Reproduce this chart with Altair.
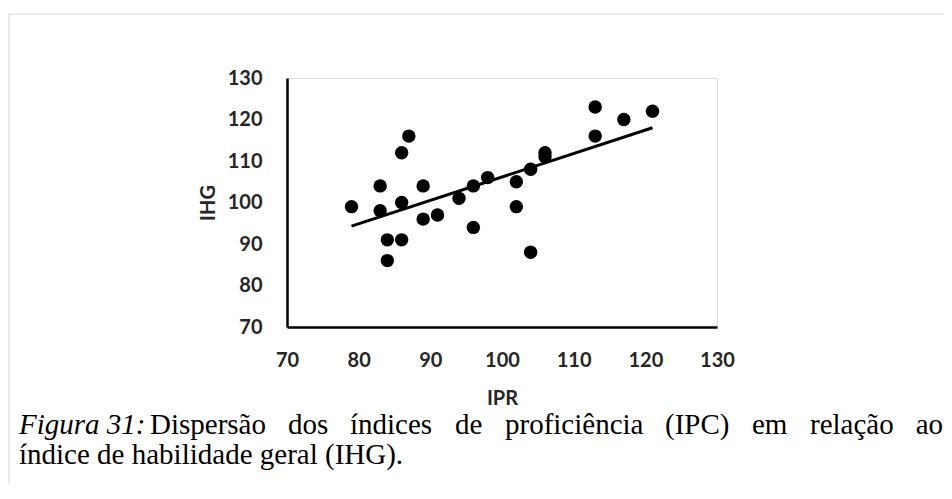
import altair as alt
import pandas as pd

ipr = [79, 83, 83, 84, 84, 86, 86, 86, 87, 89, 89, 91, 94, 96, 96, 98,
       102, 102, 104, 104, 106, 106, 113, 113, 117, 121]
ihg = [99, 104, 98, 91, 86, 91, 100, 112, 116, 104, 96, 97, 101, 104, 94, 106,
       105, 99, 88, 108, 112, 111, 123, 116, 120, 122]
x_ticks = [70, 80, 90, 100, 110, 120, 130]
y_ticks = [70, 80, 90, 100, 110, 120, 130]
caption_italic = "Figura 31:"
caption_words_1 = ["Dispersão", "dos", "índices", "de", "proficiência", "(IPC)",
                   "em", "relação", "ao"]
caption_2 = "índice de habilidade geral (IHG)."

df = pd.DataFrame({"IPR": ipr, "IHG": ihg})

TXT = "#262626"
xs = alt.Scale(domain=[70, 130], nice=False, zero=False)
ys = alt.Scale(domain=[70, 130], nice=False, zero=False)

xax = alt.Axis(values=x_ticks, grid=False, ticks=False, tickSize=0, domainColor="black",
               domainWidth=2.5, labelFont="Lato", labelFontWeight="bold", labelFontSize=20,
               labelColor=TXT, labelPadding=23, labelFlush=False, title="IPR",
               titleFont="Lato", titleFontWeight="bold", titleFontSize=20,
               titleColor=TXT, titlePadding=18)
yax = alt.Axis(values=y_ticks, grid=False, ticks=False, tickSize=0, domainColor="black",
               domainWidth=2.5, labelFont="Lato", labelFontWeight="bold", labelFontSize=20,
               labelColor=TXT, labelPadding=25, labelFlush=False, title="IHG",
               titleFont="Lato", titleFontWeight="bold", titleFontSize=20,
               titleColor=TXT, titlePadding=9)

base = alt.Chart(df)

points = base.mark_circle(size=180, opacity=1, color="black").encode(
    x=alt.X("IPR:Q", scale=xs, axis=xax),
    y=alt.Y("IHG:Q", scale=ys, axis=yax),
)

trend = base.transform_regression("IPR", "IHG", extent=[79, 121]).mark_line(
    color="black", strokeWidth=3
).encode(x=alt.X("IPR:Q", scale=xs), y=alt.Y("IHG:Q", scale=ys))

one = alt.Data(values=[{}])

border = alt.Chart(one).mark_rect(fillOpacity=0, stroke="#d9d9d9", strokeWidth=1.2).encode(
    x=alt.value(-278), x2=alt.value(2000), y=alt.value(-64), y2=alt.value(1000)
)

# caption layout (justified first line): plot origin is at page (287, 78)
OX = 287
def cap(text, page_x, y, align="left", style="normal"):
    return alt.Chart(one).mark_text(
        text=text, align=align, baseline="alphabetic", font="Liberation Serif",
        fontSize=29, fontStyle=style, color="black"
    ).encode(x=alt.value(page_x - OX), y=alt.value(y))

word_x = [150, 288, 350, 455, 505, 665, 752, 810, 943]
layers = [border, trend, points, cap(caption_italic, 19, 356, style="italic")]
for w, px in zip(caption_words_1, word_x):
    if w == "ao":
        layers.append(cap(w, px, 356, align="right"))
    else:
        layers.append(cap(w, px, 356))
layers.append(cap(caption_2, 19, 386))

chart = alt.layer(*layers).properties(
    width=430, height=249,
    autosize=alt.AutoSizeParams(type="none"),
    padding={"left": 279, "top": 70, "right": 227, "bottom": 156},
).configure_view(stroke=None).configure(background="white")

chart.save("out.html", embed_options={"renderer": "svg", "actions": False})
